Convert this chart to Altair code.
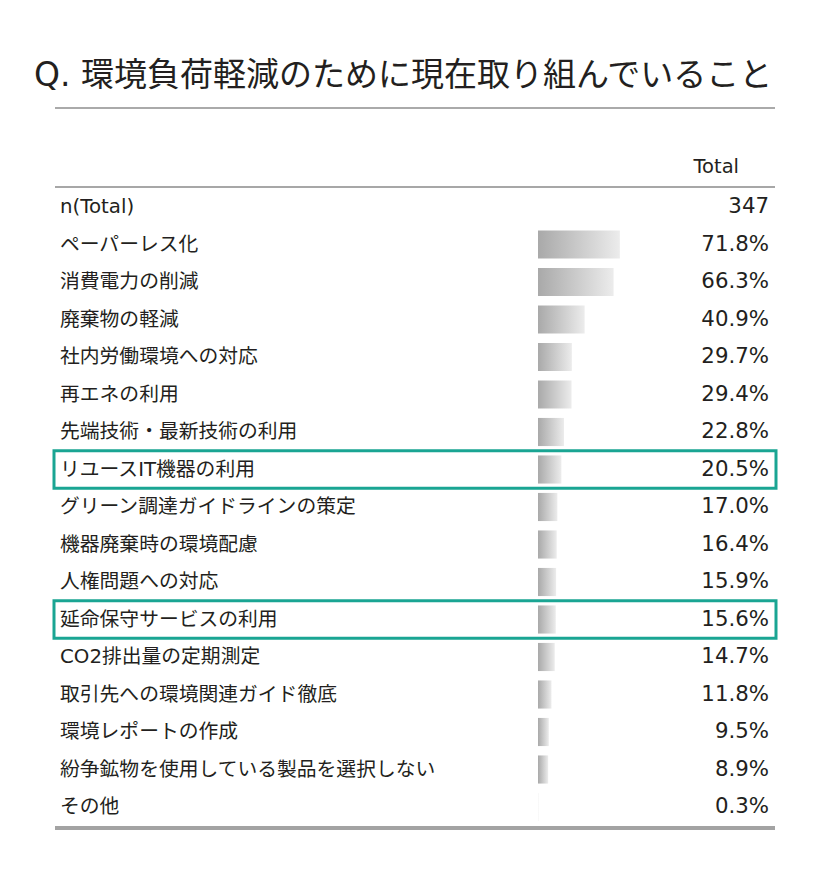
import altair as alt
import pandas as pd

TITLE = "Q. 環境負荷軽減のために現在取り組んでいること"
HEADER = "Total"

rows = [
    "n(Total)",
    "ペーパーレス化",
    "消費電力の削減",
    "廃棄物の軽減",
    "社内労働環境への対応",
    "再エネの利用",
    "先端技術・最新技術の利用",
    "リユースIT機器の利用",
    "グリーン調達ガイドラインの策定",
    "機器廃棄時の環境配慮",
    "人権問題への対応",
    "延命保守サービスの利用",
    "CO2排出量の定期測定",
    "取引先への環境関連ガイド徹底",
    "環境レポートの作成",
    "紛争鉱物を使用している製品を選択しない",
    "その他",
]
values = [None, 71.8, 66.3, 40.9, 29.7, 29.4, 22.8, 20.5, 17.0, 16.4, 15.9,
          15.6, 14.7, 11.8, 9.5, 8.9, 0.3]
value_labels = ["347", "71.8%", "66.3%", "40.9%", "29.7%", "29.4%", "22.8%",
                "20.5%", "17.0%", "16.4%", "15.9%", "15.6%", "14.7%", "11.8%",
                "9.5%", "8.9%", "0.3%"]
highlight = ["リユースIT機器の利用", "延命保守サービスの利用"]

df = pd.DataFrame({"row": rows, "value": values, "text": value_labels})

FONT = "DejaVu Sans, Noto Sans CJK JP, sans-serif"
TXT = "#231f20"

def yscale(pi=0.25, po=0.125):
    return alt.Scale(type="band", domain=rows, range=[188.25, 825.75],
                     paddingInner=pi, paddingOuter=po)

base = alt.Chart(df)

bars = base.transform_filter("isValid(datum.value)").mark_bar(
    color=alt.Gradient(
        gradient="linear",
        stops=[alt.GradientStop(color="#a9a9a9", offset=0),
               alt.GradientStop(color="#ececec", offset=1)],
        x1=0, x2=1, y1=0, y2=0,
    )
).encode(
    x=alt.X("value:Q", scale=alt.Scale(domain=[0, 100], range=[538, 652]), axis=None),
    y=alt.Y("row:N", scale=yscale(), axis=None),
)

labels = base.mark_text(align="left", baseline="middle", fontSize=19.8,
                        font=FONT, color=TXT).encode(
    x=alt.value(60),
    y=alt.Y("row:N", scale=yscale(), axis=None),
    text="row:N",
)

vals = base.mark_text(align="right", baseline="middle", fontSize=21.3,
                      font=FONT, color=TXT).encode(
    x=alt.value(769),
    y=alt.Y("row:N", scale=yscale(), axis=None),
    text="text:N",
)

boxes = base.transform_filter(
    alt.FieldOneOfPredicate(field="row", oneOf=highlight)
).mark_rect(fillOpacity=0, stroke="#1aa593", strokeWidth=3).encode(
    x=alt.value(54), x2=alt.value(776),
    y=alt.Y("row:N", scale=yscale(0, 0), axis=None),
)

one = pd.DataFrame({"t": [TITLE], "h": [HEADER]})
title = alt.Chart(one).mark_text(align="left", baseline="middle", fontSize=33,
                                 font=FONT, color=TXT).encode(
    x=alt.value(34), y=alt.value(76), text="t:N")
header = alt.Chart(one).mark_text(align="right", baseline="middle", fontSize=19.5,
                                  font=FONT, color=TXT).encode(
    x=alt.value(739), y=alt.value(167), text="h:N")

rule_title = alt.Chart(one).mark_rule(color="#aaaaaa", strokeWidth=2).encode(
    x=alt.value(55), x2=alt.value(775), y=alt.value(108))
rule_head = alt.Chart(one).mark_rule(color="#8a8a8a", strokeWidth=1.5).encode(
    x=alt.value(55), x2=alt.value(775), y=alt.value(187))
rule_bottom = alt.Chart(one).mark_rule(color="#a3a3a3", strokeWidth=4).encode(
    x=alt.value(55), x2=alt.value(775), y=alt.value(828))

chart = alt.layer(
    rule_title, rule_head, rule_bottom, bars, labels, vals, boxes, title, header
).resolve_scale(y="independent").properties(
    width=834, height=876, autosize="none", padding=0,
    background="white",
).configure_view(stroke=None)

chart.save("out.html", embed_options={"renderer": "svg", "actions": False})
